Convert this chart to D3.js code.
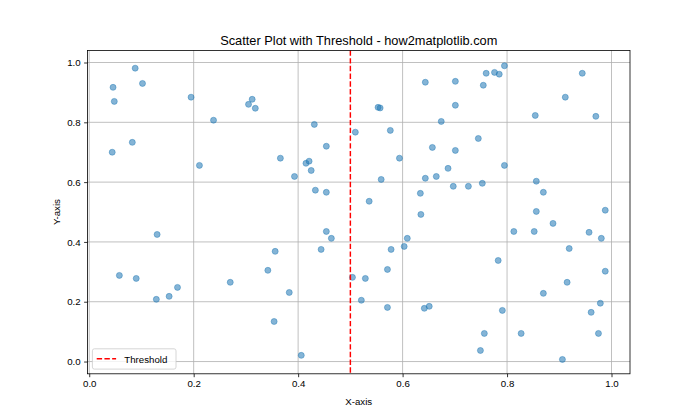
<!DOCTYPE html>
<html><head><meta charset="utf-8">
<script src="https://cdn.jsdelivr.net/npm/d3@7"></script>
<style>body{margin:0;background:#fff}svg text{font-family:"Liberation Sans",Arial,sans-serif;fill:#000}</style>
</head><body><svg id="c" width="700" height="420"></svg>
<script>
const xs = [0.0456,0.048,0.088,0.102,0.044,0.0825,0.195,0.238,0.211,0.305,0.312,0.318,0.431,0.454,0.366,0.393,0.415,0.421,0.425,0.433,0.454,0.5095,
0.6435,0.701,0.7545,0.760,0.776,0.785,0.795,0.944,0.9115,0.854,0.970,0.553,0.557,0.701,0.674,0.5765,0.745,0.657,0.701,0.594,0.795,0.687,0.559,0.6435,0.6645,0.697,0.726,0.7526,0.856,0.8695,0.634,0.536,
0.635,0.856,0.988,0.888,0.813,0.852,0.957,0.9805,0.609,0.603,0.578,0.919,0.783,0.571,0.988,0.504,0.5287,0.915,0.8695,0.521,0.9786,0.571,0.6416,0.651,0.791,0.961,0.7565,0.827,0.975,0.749,0.906,
0.130,0.454,0.4636,0.444,0.356,0.342,0.0577,0.090,0.270,0.169,0.153,0.1285,0.383,0.354,0.406];
const ys = [0.917,0.870,0.981,0.930,0.700,0.733,0.884,0.807,0.656,0.860,0.877,0.847,0.793,0.720,0.680,0.619,0.663,0.670,0.639,0.573,0.566,0.767,
0.934,0.937,0.924,0.964,0.967,0.961,0.989,0.964,0.884,0.823,0.820,0.850,0.848,0.857,0.803,0.773,0.746,0.716,0.706,0.680,0.656,0.646,0.609,0.613,0.619,0.586,0.586,0.596,0.603,0.566,0.5625,0.536,
0.492,0.502,0.506,0.462,0.435,0.435,0.432,0.412,0.412,0.385,0.375,0.378,0.338,0.308,0.302,0.2815,0.278,0.265,0.228,0.205,0.195,0.181,0.178,0.1846,0.171,0.1645,0.094,0.094,0.094,0.037,0.007,
0.425,0.435,0.412,0.375,0.3685,0.305,0.288,0.278,0.265,0.248,0.218,0.208,0.231,0.134,0.0207];
const xTicks = [0.0,0.2,0.4,0.6,0.8,1.0];
const yTicks = [0.0,0.2,0.4,0.6,0.8,1.0];
const threshold = 0.5;
const titleText = "Scatter Plot with Threshold - how2matplotlib.com";
const xLabel = "X-axis", yLabel = "Y-axis", legendLabel = "Threshold";

const L=87.5,R=630,T=50.4,B=373.8;
const svg=d3.select("#c");
const x=d3.scaleLinear().domain([-0.0033,1.0354]).range([L,R]);
const y=d3.scaleLinear().domain([-0.041,1.0405]).range([B,T]);
const fs=9.7;
// grid
const g=svg.append("g");
g.selectAll(".gx").data(xTicks).enter().append("line").attr("x1",d=>x(d)).attr("x2",d=>x(d)).attr("y1",T).attr("y2",B).attr("stroke","#b0b0b0").attr("stroke-width",0.8);
g.selectAll(".gy").data(yTicks).enter().append("line").attr("y1",d=>y(d)).attr("y2",d=>y(d)).attr("x1",L).attr("x2",R).attr("stroke","#b0b0b0").attr("stroke-width",0.8);
// points
svg.append("g").selectAll("circle").data(xs.map((v,i)=>[v,ys[i]])).enter().append("circle")
 .attr("cx",d=>x(d[0])).attr("cy",d=>y(d[1])).attr("r",3)
 .attr("fill","#1f77b4").attr("fill-opacity",0.55).attr("stroke","#1f77b4").attr("stroke-opacity",0.55).attr("stroke-width",0.8);
// threshold
svg.append("line").attr("x1",x(threshold)).attr("x2",x(threshold)).attr("y1",T).attr("y2",B)
 .attr("stroke","red").attr("stroke-width",1.46).attr("stroke-dasharray","5.4,2.33");
// axes
const ax=svg.append("g").attr("transform",`translate(0,${B})`).call(d3.axisBottom(x).tickValues(xTicks).tickFormat(d3.format(".1f")).tickSize(3.4).tickPadding(3.4));
const ay=svg.append("g").attr("transform",`translate(${L},0)`).call(d3.axisLeft(y).tickValues(yTicks).tickFormat(d3.format(".1f")).tickSize(3.4).tickPadding(3.4));
[ax,ay].forEach(a=>{a.select(".domain").remove();a.selectAll("line").attr("stroke","#000").attr("stroke-width",0.8);a.selectAll("text").attr("font-size",fs).attr("font-family","Liberation Sans, Arial, sans-serif");});
svg.append("rect").attr("x",L).attr("y",T).attr("width",R-L).attr("height",B-T).attr("fill","none").attr("stroke","#000").attr("stroke-width",0.8);
// labels
svg.append("text").attr("x",(L+R)/2).attr("y",45).attr("text-anchor","middle").attr("font-size",12.8).text(titleText);
svg.append("text").attr("x",(L+R)/2).attr("y",404.5).attr("text-anchor","middle").attr("font-size",fs).text(xLabel);
svg.append("text").attr("transform",`translate(60,${(T+B)/2}) rotate(-90)`).attr("text-anchor","middle").attr("font-size",fs).text(yLabel);
// legend
const lg=svg.append("g");
lg.append("rect").attr("x",92.4).attr("y",348.8).attr("width",83.6).attr("height",20.3).attr("rx",2).attr("fill","#fff").attr("fill-opacity",0.8).attr("stroke","#cccccc").attr("stroke-width",0.8);
lg.append("line").attr("x1",96.7).attr("x2",116.1).attr("y1",358.8).attr("y2",358.8).attr("stroke","red").attr("stroke-width",1.46).attr("stroke-dasharray","5.4,2.33");
lg.append("text").attr("x",124.3).attr("y",362.5).attr("font-size",fs).text(legendLabel);
</script></body></html>
